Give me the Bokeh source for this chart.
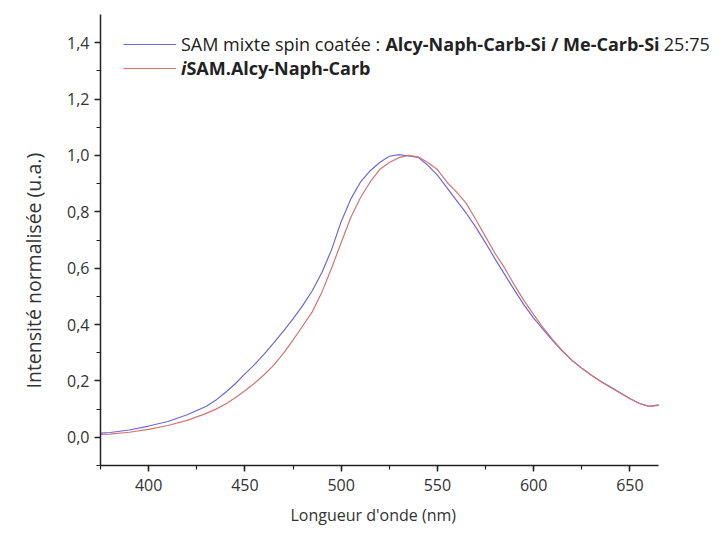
from bokeh.plotting import figure
from bokeh.models import (Range1d, SingleIntervalTicker, CustomJSTickFormatter,
                          Legend, LegendItem, Title)
from bokeh.embed import file_html
from bokeh.resources import INLINE

# ---- data ----
wl = [375, 380, 390, 400, 410, 420, 430, 435, 440, 445, 450, 455, 460, 465, 470,
      475, 480, 485, 490, 495, 500, 505, 510, 515, 520, 525, 530, 535, 540, 545,
      550, 555, 560, 565, 570, 575, 580, 585, 590, 595, 600, 605, 610, 615, 620,
      625, 630, 635, 640, 645, 650, 655, 660, 665]
sam_mixte = [0.015, 0.017, 0.026, 0.040, 0.056, 0.080, 0.110, 0.132, 0.160, 0.190,
             0.225, 0.258, 0.295, 0.335, 0.377, 0.420, 0.467, 0.520, 0.585, 0.665,
             0.765, 0.845, 0.905, 0.945, 0.975, 0.997, 1.003, 0.998, 0.993, 0.965,
             0.930, 0.885, 0.840, 0.795, 0.745, 0.690, 0.632, 0.577, 0.522, 0.470,
             0.423, 0.382, 0.342, 0.305, 0.272, 0.245, 0.220, 0.198, 0.178, 0.158,
             0.138, 0.120, 0.110, 0.115]
isam = [0.010, 0.011, 0.018, 0.028, 0.042, 0.060, 0.085, 0.100, 0.118, 0.140,
        0.165, 0.192, 0.222, 0.256, 0.298, 0.345, 0.395, 0.445, 0.515, 0.600,
        0.690, 0.780, 0.850, 0.905, 0.950, 0.975, 0.992, 1.000, 0.995, 0.975,
        0.950, 0.905, 0.870, 0.830, 0.772, 0.712, 0.652, 0.600, 0.540, 0.485,
        0.435, 0.388, 0.346, 0.307, 0.273, 0.245, 0.220, 0.197, 0.177, 0.157,
        0.137, 0.120, 0.110, 0.113]

X_MIN, X_MAX = 375, 665
Y_MIN, Y_MAX = -0.1, 1.5
x_label = "Longueur d'onde (nm)"
y_label = "Intensité normalisée (u.a.)"
legend1_parts = ["SAM mixte spin coatée :", "Alcy-Naph-Carb-Si / Me-Carb-Si", "25:75"]
legend2_parts = ["i", "SAM.Alcy-Naph-Carb"]

FONT = "Open Sans"
BLUE = "#6a6ad4"
RED = "#d67474"

# layout in pixels: axis box 97..658 x 14..467; frame widened to the right so the
# legend text (which runs past the axis end) is not clipped
AX_L, AX_R, AX_T, AX_B = 97, 658, 14, 467
W, H = 719, 533
FR = 2
px_per_x = (AX_R - AX_L) / (X_MAX - X_MIN)
x_end = X_MIN + (W - FR - AX_L) / px_per_x
FW = W - FR - AX_L
FH = AX_B - AX_T

p = figure(width=W, height=H, output_backend="svg", toolbar_location=None,
           x_range=Range1d(X_MIN, x_end), y_range=Range1d(Y_MIN, Y_MAX),
           min_border_left=AX_L, min_border_right=FR, min_border_top=AX_T,
           min_border_bottom=H - AX_B)
p.outline_line_color = None
p.grid.visible = False

r1 = p.line(wl, sam_mixte, line_color=BLUE, line_width=1.2)
r2 = p.line(wl, isam, line_color=RED, line_width=1.2)

for ax in (p.xaxis[0], p.yaxis[0]):
    ax.axis_line_color = "#222222"
    ax.axis_line_width = 1.5
    ax.major_tick_line_color = "#222222"
    ax.minor_tick_line_color = "#222222"
    ax.major_tick_line_width = 1.5
    ax.minor_tick_line_width = 1.2
    ax.major_tick_in = 0
    ax.major_tick_out = 6
    ax.minor_tick_in = 0
    ax.minor_tick_out = 4
    ax.major_label_text_font = FONT
    ax.major_label_text_font_size = "16px"
    ax.major_label_text_color = "#333333"

p.xaxis.bounds = (X_MIN, X_MAX)
p.xaxis.ticker = SingleIntervalTicker(interval=50, num_minor_ticks=2)
p.yaxis.ticker = SingleIntervalTicker(interval=0.2, num_minor_ticks=2)
p.yaxis.formatter = CustomJSTickFormatter(code="return tick.toFixed(1).replace('.', ',');")
p.xaxis.major_label_standoff = 7
p.yaxis.major_label_standoff = 5

# axis titles as side titles, placed as in the reference
p.add_layout(Title(text=y_label, align="left", offset=77, standoff=35,
                   text_font=FONT, text_font_size="19.5px",
                   text_font_style="normal", text_color="#333333"), "left")
p.add_layout(Title(text=x_label, align="left", offset=190, standoff=16,
                   text_font=FONT, text_font_size="16px",
                   text_font_style="normal", text_color="#333333"), "below")

# approximate Open Sans advance widths (units of 1/2048 em)
REG = {' ': 532, ':': 545, '/': 752, '-': 659, '.': 545, 'A': 1296, 'C': 1292,
       'M': 1823, 'N': 1556, 'S': 1120, 'a': 1139, 'b': 1255, 'c': 975, 'e': 1149,
       'é': 1149, 'h': 1257, 'i': 518, 'l': 518, 'm': 1905, 'n': 1257, 'o': 1237,
       'p': 1255, 'r': 846, 's': 977, 't': 705, 'x': 1064, 'y': 1032}
BOLD = {' ': 532, ':': 600, '/': 797, '-': 659, '.': 600, 'A': 1479, 'C': 1309,
        'M': 1993, 'N': 1665, 'S': 1122, 'a': 1208, 'b': 1290, 'c': 1014, 'e': 1198,
        'h': 1320, 'i': 620, 'l': 620, 'n': 1320, 'o': 1260, 'p': 1290, 'r': 918,
        'y': 1151}

def width_px(s, bold, size):
    tbl = BOLD if bold else REG
    return sum(tbl.get(ch, 1171) for ch in s) / 2048.0 * size

LEG_SIZE = 18
SPACE = 532 / 2048.0 * LEG_SIZE
ROW = 26
GLYPH_X = 120 - AX_L        # legend line start, relative to frame left
TEXT_X = 178 - AX_L         # legend text start
row_y = [FH - (46 - AX_T) - ROW / 2, FH - (70 - AX_T) - ROW / 2]   # bottom of each row


def add_piece(text, style, x, y, renderer, glyph_w):
    leg = Legend(items=[LegendItem(label=text, renderers=[renderer])],
                 location=(x, y), margin=0, padding=0, spacing=0,
                 glyph_width=glyph_w, glyph_height=ROW, label_height=ROW,
                 label_standoff=(TEXT_X - GLYPH_X - glyph_w) if glyph_w else 0,
                 background_fill_alpha=0, border_line_alpha=0,
                 label_text_font=FONT, label_text_font_size=f"{LEG_SIZE}px",
                 label_text_font_style=style, label_text_color="#222222",
                 click_policy="none")
    p.add_layout(leg)


rows = [(legend1_parts, ["normal", "bold", "normal"], r1),
        (legend2_parts, ["bold italic", "bold"], r2)]
for (parts, styles, rend), ry in zip(rows, row_y):
    xc = TEXT_X
    for k, (part, st) in enumerate(zip(parts, styles)):
        if k == 0:
            add_piece(part, st, GLYPH_X, ry, rend, 53)
        else:
            add_piece(part, st, xc, ry, rend, 0)
        gap = 0 if rend is r2 else SPACE + 1
        xc += width_px(part, "bold" in st, LEG_SIZE) + gap

open("out.html", "w").write(file_html(p, INLINE))
